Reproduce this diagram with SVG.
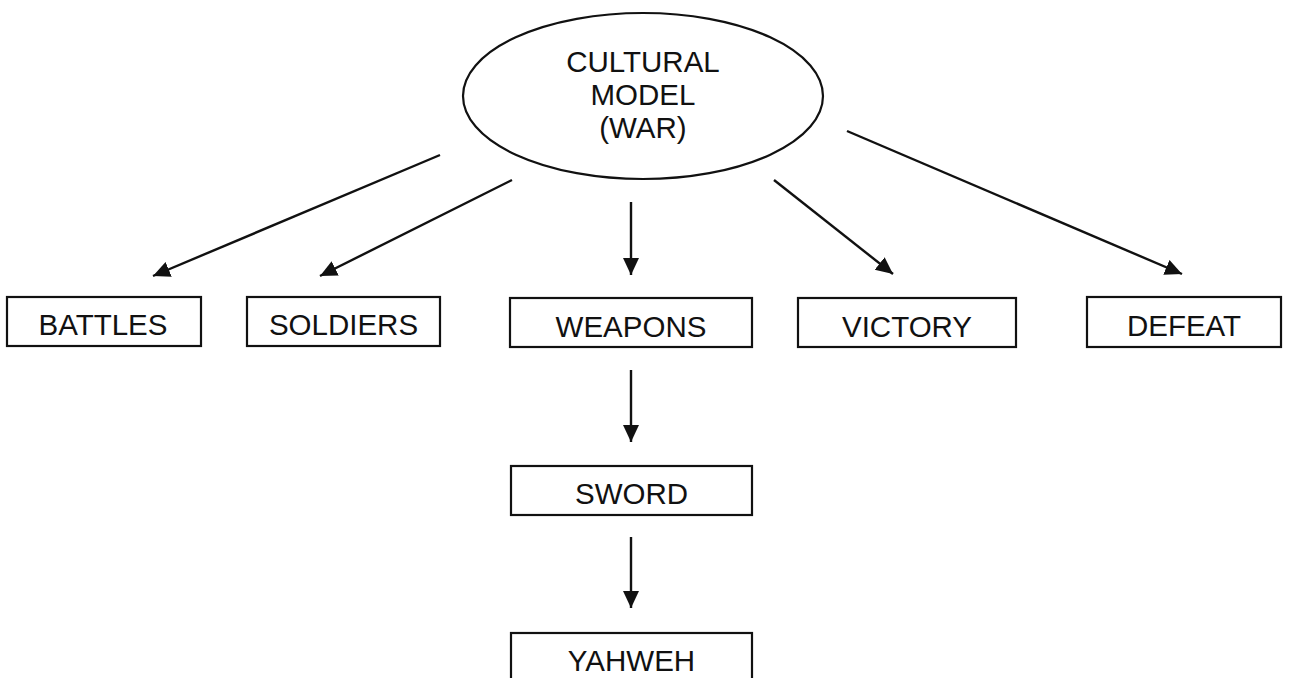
<svg xmlns="http://www.w3.org/2000/svg" width="1289" height="678" viewBox="0 0 1289 678">
<style>
.box{fill:#fff;stroke:#111;stroke-width:2.2}
.lbl{font-family:"Liberation Sans",Arial,sans-serif;font-size:29.5px;fill:#111;text-anchor:middle}
.conn{stroke:#111;stroke-width:2.4;fill:none;marker-end:url(#arr)}
</style>
<defs>
<marker id="arr" markerUnits="userSpaceOnUse" markerWidth="18" markerHeight="17" refX="17" refY="8" orient="auto">
<path d="M0,0 L17,8 L0,16 z" fill="#111"/>
</marker>
</defs>
<rect width="1289" height="678" fill="#fff"/>
<g id="connectors">
<line class="conn" x1="440" y1="155" x2="153" y2="276"/>
<line class="conn" x1="512" y1="180" x2="320" y2="276"/>
<line class="conn" x1="631" y1="202" x2="631" y2="275"/>
<line class="conn" x1="774" y1="180" x2="893" y2="274"/>
<line class="conn" x1="847" y1="131" x2="1182" y2="274"/>
<line class="conn" x1="631" y1="370" x2="631" y2="442"/>
<line class="conn" x1="631" y1="537" x2="631" y2="608"/>
</g>
<g id="node-cultural-model">
<ellipse class="box" cx="643" cy="96" rx="180" ry="83"/>
<text class="lbl" x="643" y="72">CULTURAL</text>
<text class="lbl" x="643" y="105">MODEL</text>
<text class="lbl" x="643" y="138">(WAR)</text>
</g>
<g id="node-battles">
<rect class="box" x="7" y="297" width="194" height="49"/>
<text class="lbl" x="103" y="335">BATTLES</text>
</g>
<g id="node-soldiers">
<rect class="box" x="247" y="297" width="193" height="49"/>
<text class="lbl" x="343.5" y="335">SOLDIERS</text>
</g>
<g id="node-weapons">
<rect class="box" x="510" y="298" width="242" height="49"/>
<text class="lbl" x="631" y="337">WEAPONS</text>
</g>
<g id="node-victory">
<rect class="box" x="798" y="298" width="218" height="49"/>
<text class="lbl" x="907" y="337">VICTORY</text>
</g>
<g id="node-defeat">
<rect class="box" x="1087" y="297" width="194" height="50"/>
<text class="lbl" x="1184" y="336">DEFEAT</text>
</g>
<g id="node-sword">
<rect class="box" x="511" y="466" width="241" height="49"/>
<text class="lbl" x="631.5" y="504">SWORD</text>
</g>
<g id="node-yahweh">
<rect class="box" x="511" y="633" width="241" height="49"/>
<text class="lbl" x="631.5" y="671">YAHWEH</text>
</g>
</svg>
